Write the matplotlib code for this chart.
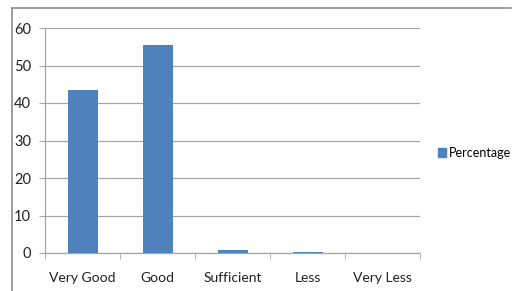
import matplotlib
matplotlib.use("Agg")
import matplotlib.pyplot as plt
from matplotlib.lines import Line2D
from matplotlib.patches import Patch

categories = ["Very Good", "Good", "Sufficient", "Less", "Very Less"]
percentage = [43.4, 55.6, 0.8, 0.3, 0.0]
yticks = [0, 10, 20, 30, 40, 50, 60]

plt.rcParams['font.family'] = ['Lato', 'DejaVu Sans']
W, H = 512, 291
fig = plt.figure(figsize=(W / 100, H / 100), dpi=100)
ax = fig.add_axes([45 / W, 1 - 253 / H, 375 / W, 225 / H])

color = "#4f81bd"
x = list(range(len(categories)))
ax.bar(x, percentage, width=0.4, color=color, zorder=3, label="Percentage")
ax.set_xlim(-0.5, len(categories) - 0.5)
ax.set_ylim(0, 60)
ax.set_yticks(yticks)
ax.set_yticklabels([str(v) for v in yticks], fontsize=10.5, color="#222222")
ax.yaxis.grid(True, color="#a6a6a6", linewidth=0.9, zorder=0)
ax.set_axisbelow(True)

ax.set_xticks(x)
ax.set_xticklabels(categories, fontsize=10, color="#222222")
ax.tick_params(axis="x", length=0, pad=14)
ax.tick_params(axis="y", length=4, color="#a6a6a6", pad=6)
ax.set_xticks([i - 0.5 for i in range(len(categories) + 1)], minor=True)
ax.tick_params(axis="x", which="minor", length=4, color="#a6a6a6", direction="out")

for s in ["top", "right"]:
    ax.spines[s].set_visible(False)
for s in ["left", "bottom"]:
    ax.spines[s].set_color("#a6a6a6")
    ax.spines[s].set_linewidth(0.9)

handles = [Patch(facecolor=color, edgecolor=color)]
fig.legend(handles, ["Percentage"], loc="center left",
           bbox_to_anchor=(438 / W, 1 - 153 / H), frameon=False,
           fontsize=9, handlelength=0.6, handleheight=0.8, handletextpad=0.3,
           borderpad=0.0, borderaxespad=0.0)

fig.add_artist(Line2D([12 / W, 12 / W], [0, 1 - 8 / H], transform=fig.transFigure,
                      color="#8c8c8c", linewidth=1.2))
fig.add_artist(Line2D([12 / W, 511 / W], [1 - 8 / H, 1 - 8 / H], transform=fig.transFigure,
                      color="#8c8c8c", linewidth=1.2))

fig.savefig("out.png", dpi=100)
